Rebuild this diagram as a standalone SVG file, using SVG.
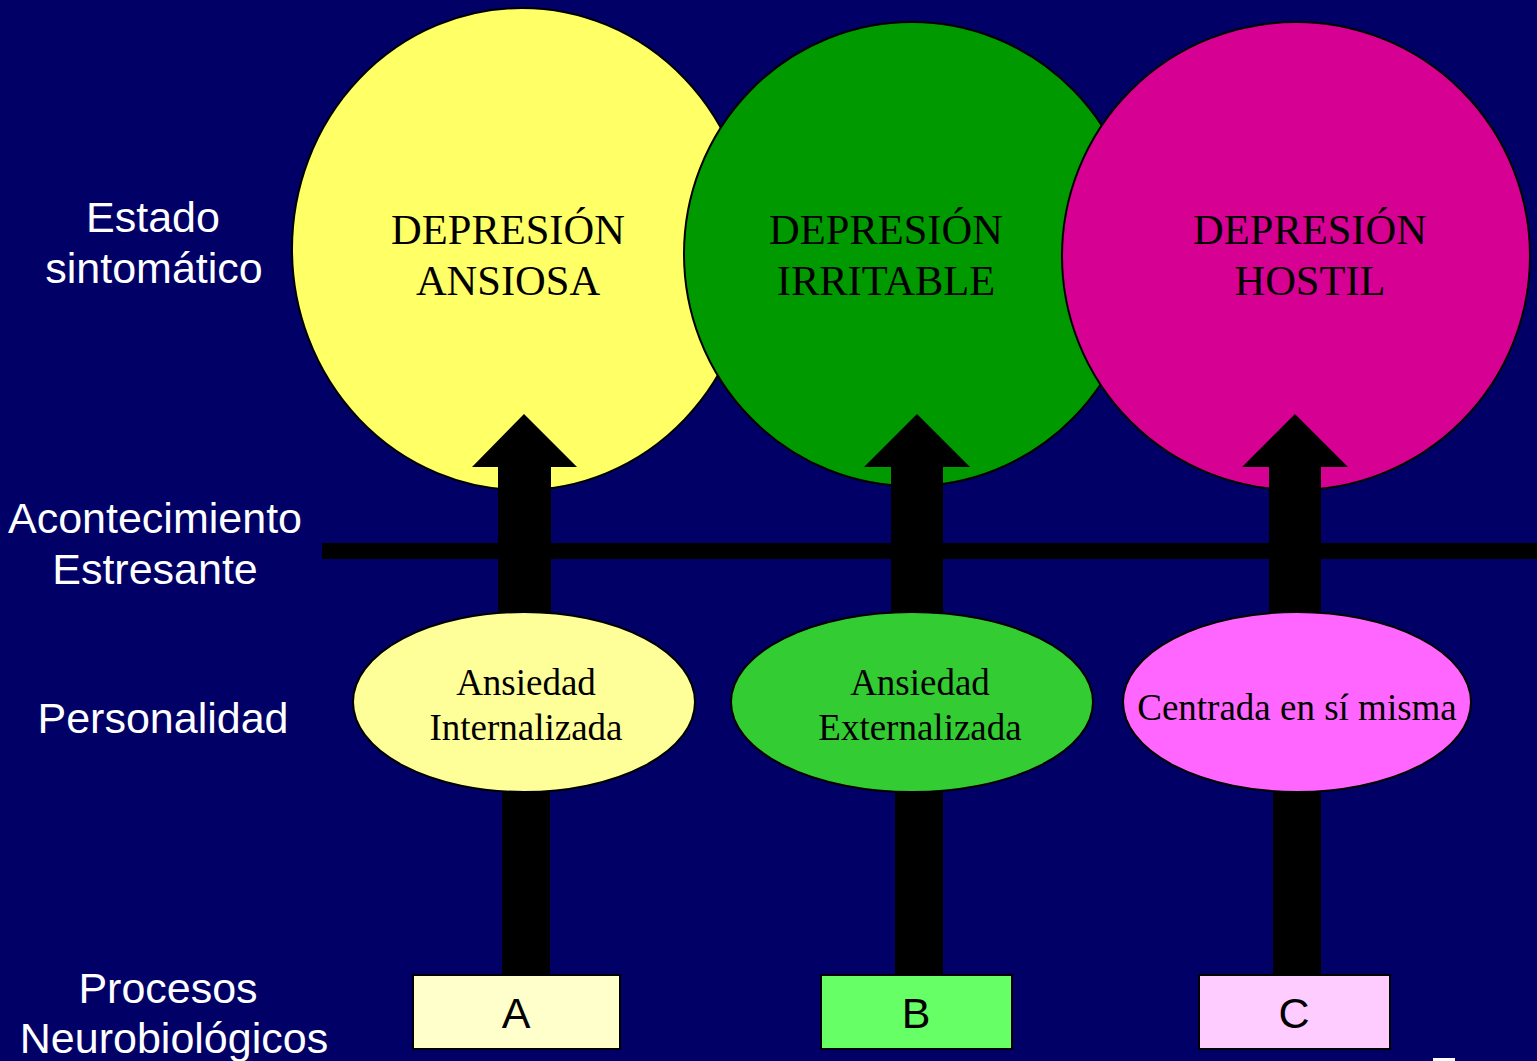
<svg xmlns="http://www.w3.org/2000/svg" width="1537" height="1061" viewBox="0 0 1537 1061">
<style>
.lbl{font-family:"Liberation Sans",Arial,sans-serif;font-size:43px;fill:#fff;text-anchor:middle}
.big{font-family:"Liberation Serif","Times New Roman",serif;font-size:42.5px;fill:#000;text-anchor:middle}
.mid{font-family:"Liberation Serif","Times New Roman",serif;font-size:37px;fill:#000;text-anchor:middle}
.box{font-family:"Liberation Sans",Arial,sans-serif;font-size:43px;fill:#000;text-anchor:middle}
.sh{stroke:#000;stroke-width:2}
</style>
<rect width="1537" height="1061" fill="#000066"/>
<g id="labels">
<text class="lbl" x="153" y="232">Estado</text>
<text class="lbl" x="154" y="283">sintomático</text>
<text class="lbl" x="155" y="533">Acontecimiento</text>
<text class="lbl" x="155" y="584">Estresante</text>
<text class="lbl" x="163" y="733">Personalidad</text>
<text class="lbl" x="168" y="1003">Procesos</text>
<text class="lbl" x="174" y="1053">Neurobiológicos</text>
</g>
<g id="circle-ansiosa">
<ellipse class="sh" cx="522" cy="249" rx="230" ry="241" fill="#FFFF66"/>
<text class="big" x="508" y="244">DEPRESIÓN</text>
<text class="big" x="508" y="295">ANSIOSA</text>
</g>
<g id="circle-irritable">
<ellipse class="sh" cx="912" cy="254" rx="228" ry="232" fill="#009900"/>
<text class="big" x="886" y="244">DEPRESIÓN</text>
<text class="big" x="886" y="295">IRRITABLE</text>
</g>
<g id="circle-hostil">
<ellipse class="sh" cx="1296" cy="256" rx="234" ry="234" fill="#D60093"/>
<text class="big" x="1310" y="244">DEPRESIÓN</text>
<text class="big" x="1310" y="295">HOSTIL</text>
</g>
<g id="connectors" fill="#000">
<rect x="322" y="543" width="1215" height="16"/>
<polygon points="524,414 577,467 551,467 551,615 498,615 498,467 472,467"/>
<polygon points="917,414 970,467 943,467 943,615 891,615 891,467 864,467"/>
<polygon points="1295,414 1348,467 1321,467 1321,615 1269,615 1269,467 1242,467"/>
<rect x="502" y="788" width="48" height="190"/>
<rect x="895" y="788" width="48" height="190"/>
<rect x="1273" y="788" width="48" height="190"/>
</g>
<g id="ellipse-a">
<ellipse class="sh" cx="524" cy="702" rx="171" ry="90" fill="#FFFF99"/>
<text class="mid" x="526" y="695">Ansiedad</text>
<text class="mid" x="526" y="740">Internalizada</text>
</g>
<g id="ellipse-b">
<ellipse class="sh" cx="912" cy="702" rx="181" ry="90" fill="#33CC33"/>
<text class="mid" x="920" y="695">Ansiedad</text>
<text class="mid" x="920" y="740">Externalizada</text>
</g>
<g id="ellipse-c">
<ellipse class="sh" cx="1297" cy="702" rx="174" ry="90" fill="#FF66FF"/>
<text class="mid" x="1297" y="720">Centrada en sí misma</text>
</g>
<g id="box-a">
<rect class="sh" x="413" y="975" width="207" height="74" fill="#FFFFCC"/>
<text class="box" x="516" y="1028">A</text>
</g>
<g id="box-b">
<rect class="sh" x="821" y="975" width="191" height="74" fill="#66FF66"/>
<text class="box" x="916" y="1028">B</text>
</g>
<g id="box-c">
<rect class="sh" x="1199" y="975" width="191" height="74" fill="#FFCCFF"/>
<text class="box" x="1294" y="1028">C</text>
</g>
<rect x="1433" y="1058" width="22" height="3" fill="#fff"/>
</svg>
